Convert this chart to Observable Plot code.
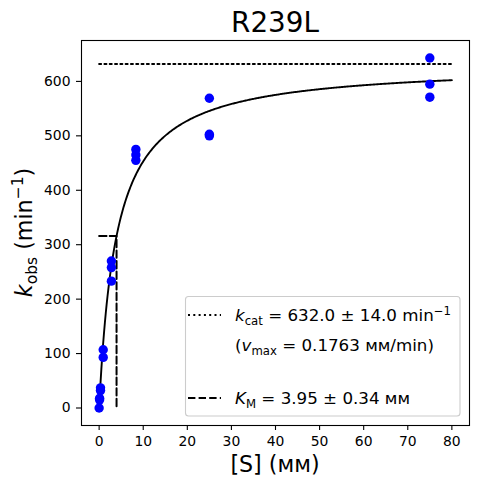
<!DOCTYPE html>
<html>
<head>
<meta charset="utf-8">
<script src="https://cdn.jsdelivr.net/npm/d3@7"></script>
<script src="https://cdn.jsdelivr.net/npm/@observablehq/plot@0.6"></script>
<style>
  html, body { margin: 0; padding: 0; background: white; }
  svg { display: block; }
</style>
</head>
<body>
<div id="chart"></div>
<script>
// ---- data ----
const title = "R239L";
const conc = [75, 75, 75, 25, 25, 25, 8.33, 8.33, 8.33, 2.78, 2.78, 2.78, 0.926, 0.926, 0.309, 0.309, 0.103, 0.103, 0];
const kobs = [643, 595, 571, 569, 503, 500, 475, 465, 455, 270, 258, 233, 107, 93, 37, 32, 18, 15, 0];
const kcat = 632.0, kcatErr = 14.0;
const KM = 3.95, KMErr = 0.34;
const vmax = 0.1763;
const xTicks = [0, 10, 20, 30, 40, 50, 60, 70, 80];
const yTicks = [0, 100, 200, 300, 400, 500, 600];
const xMaxFit = 80;

const points = conc.map((c, i) => ({x: c, y: kobs[i]}));
const xMinFit = d3.min(conc.filter(c => c > 0));
// fitted Michaelis–Menten curve from the fit parameters
const fit = d3.range(0, 401).map(i => {
  const x = xMinFit + (xMaxFit - xMinFit) * i / 400;
  return {x, y: kcat * x / (KM + x)};
});
const kcatLine = [{x: 0, y: kcat}, {x: xMaxFit, y: kcat}];
const kmLines = [{x: 0, y: kcat / 2}, {x: KM, y: kcat / 2}, {x: KM, y: 0}];

const W = 477, H = 484;
const mL = 81, mR = 8, mT = 40, mB = 59;
const dotted = "2,3.3", dashed = "7.4,3.2";

const svg = Plot.plot({
  width: W, height: H,
  marginLeft: mL, marginRight: mR, marginTop: mT, marginBottom: mB,
  style: {fontFamily: "DejaVu Sans", fontSize: "13.9px", background: "white", color: "black"},
  x: {domain: [-4, 84], label: null},
  y: {domain: [-32.15, 675.15], label: null},
  marks: [
    Plot.axisX({ticks: xTicks, tickSize: 5, tickPadding: 5.5, label: null, strokeWidth: 1.1}),
    Plot.axisY({ticks: yTicks, tickSize: 5, tickPadding: 6, label: null, strokeWidth: 1.1}),
    Plot.line(kcatLine, {x: "x", y: "y", stroke: "black", strokeWidth: 2, strokeDasharray: dotted}),
    Plot.line(kmLines, {x: "x", y: "y", stroke: "black", strokeWidth: 2, strokeDasharray: dashed}),
    Plot.line(fit, {x: "x", y: "y", stroke: "black", strokeWidth: 1.9}),
    Plot.dot(points, {x: "x", y: "y", r: 4.7, fill: "blue", stroke: "none"}),
    Plot.frame({stroke: "black", strokeWidth: 1.1})
  ]
});

const s = d3.select(svg);
const cx = mL + (W - mL - mR) / 2;

// title
s.append("text").attr("x", cx).attr("y", 31.5).attr("text-anchor", "middle")
  .attr("font-family", "DejaVu Sans").attr("font-size", "27.8px").attr("fill", "black").text(title);

// x label
s.append("text").attr("x", cx).attr("y", 471.5).attr("text-anchor", "middle")
  .attr("font-family", "DejaVu Sans").attr("font-size", "22.2px").attr("fill", "black").text("[S] (ᴍᴍ)");

// y label
const yl = s.append("text").attr("transform", `translate(32,${mT + (H - mT - mB) / 2}) rotate(-90)`)
  .attr("text-anchor", "middle").attr("font-family", "DejaVu Sans").attr("font-size", "22.2px").attr("fill", "black");
yl.append("tspan").attr("font-style", "italic").text("k");
yl.append("tspan").attr("font-size", "15.5px").attr("dy", 4.5).text("obs");
yl.append("tspan").attr("dy", -4.5).text(" (min");
yl.append("tspan").attr("font-size", "15.5px").attr("dy", -9).text("−1");
yl.append("tspan").attr("dy", 9).text(")");

// legend
const lg = s.append("g").attr("text-anchor", "start");
lg.append("rect").attr("x", 185.5).attr("y", 296.5).attr("width", 274.5).attr("height", 119.5).attr("rx", 3)
  .attr("fill", "white").attr("fill-opacity", 0.8).attr("stroke", "#cccccc").attr("stroke-width", 1.1);
lg.append("line").attr("x1", 188).attr("x2", 221).attr("y1", 315).attr("y2", 315)
  .attr("stroke", "black").attr("stroke-width", 2).attr("stroke-dasharray", dotted);
lg.append("line").attr("x1", 188).attr("x2", 221).attr("y1", 398).attr("y2", 398)
  .attr("stroke", "black").attr("stroke-width", 2).attr("stroke-dasharray", dashed);

const fs = "16.7px", fsS = "11.7px";
function ltext(y) {
  return lg.append("text").attr("x", 235).attr("y", y).attr("text-anchor", "start")
    .attr("font-family", "DejaVu Sans").attr("font-size", fs).attr("fill", "black");
}
const t1 = ltext(321);
t1.append("tspan").attr("font-style", "italic").text("k");
t1.append("tspan").attr("font-size", fsS).attr("dy", 3.5).text("cat");
t1.append("tspan").attr("dy", -3.5).text(` = ${kcat.toFixed(1)} ± ${kcatErr.toFixed(1)} min`);
t1.append("tspan").attr("font-size", fsS).attr("dy", -6.5).text("−1");

const t2 = ltext(351);
t2.append("tspan").text("(");
t2.append("tspan").attr("font-style", "italic").text("v");
t2.append("tspan").attr("font-size", fsS).attr("dy", 3.5).text("max");
t2.append("tspan").attr("dy", -3.5).text(` = ${vmax.toFixed(4)} ᴍᴍ/min)`);

const t3 = ltext(404);
t3.append("tspan").attr("font-style", "italic").text("K");
t3.append("tspan").attr("font-size", fsS).attr("dy", 3.5).text("M");
t3.append("tspan").attr("dy", -3.5).text(` = ${KM.toFixed(2)} ± ${KMErr.toFixed(2)} ᴍᴍ`);

document.getElementById("chart").appendChild(svg);
</script>
</body>
</html>
